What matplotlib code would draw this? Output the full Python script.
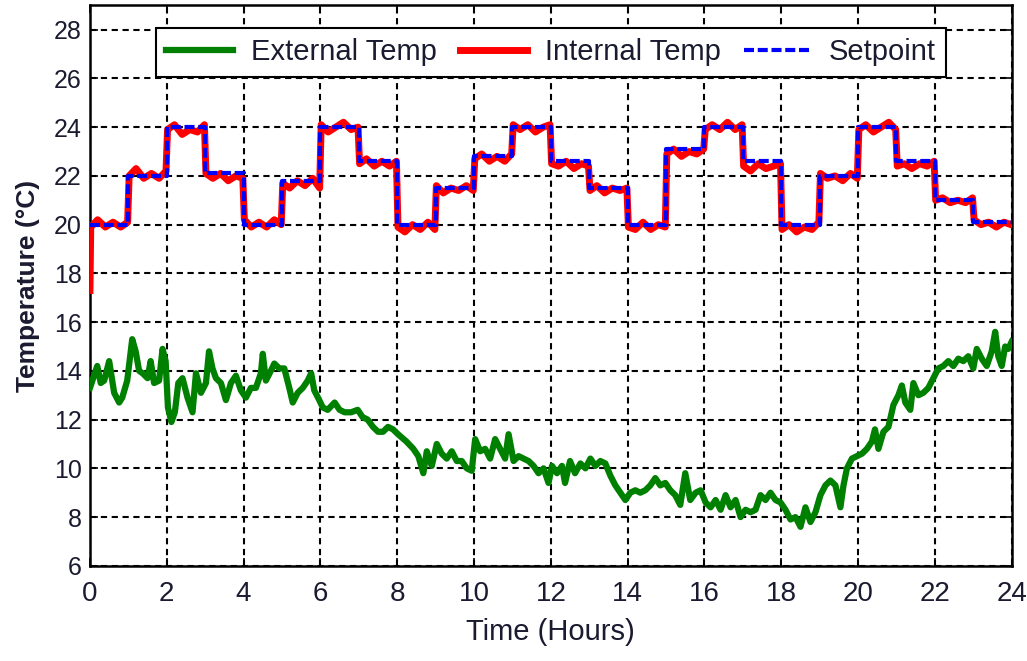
import numpy as np
import matplotlib
matplotlib.use('Agg')
from matplotlib import pyplot as plt

narrow = ['Liberation Sans Narrow', 'DejaVu Sans Condensed', 'Liberation Sans', 'DejaVu Sans']
plt.rcParams['font.family'] = ['Liberation Sans', 'DejaVu Sans']
txt_color = '#1a1a30'

# hourly setpoint (deg C), hour 0..23
setpoint = [20, 22, 24, 22.1, 20, 21.8, 24, 22.6, 20, 21.5, 22.8, 24,
            22.6, 21.5, 20, 23.1, 24, 22.6, 20, 22, 24, 22.6, 21, 20.1]

# internal temperature, six readings inside each hour
internal_start = 17.3
internal = [
    [19.9, 20.2, 19.9, 20.1, 19.9, 20.1],
    [22.0, 22.3, 21.9, 22.1, 21.9, 22.2],
    [23.9, 24.1, 23.7, 23.9, 23.8, 24.1],
    [22.1, 21.9, 22.1, 21.8, 22.0, 21.9],
    [20.2, 19.9, 20.1, 19.9, 20.2, 20.0],
    [21.7, 21.5, 21.8, 21.6, 21.9, 21.5],
    [24.1, 23.8, 24.0, 24.2, 23.9, 24.0],
    [22.5, 22.7, 22.4, 22.6, 22.4, 22.6],
    [19.9, 19.7, 20.0, 19.8, 20.1, 19.8],
    [21.6, 21.3, 21.5, 21.4, 21.6, 21.4],
    [22.7, 22.9, 22.6, 22.8, 22.6, 22.9],
    [24.1, 23.9, 24.1, 23.8, 24.0, 24.1],
    [22.5, 22.4, 22.6, 22.3, 22.5, 22.4],
    [21.4, 21.6, 21.3, 21.5, 21.4, 21.5],
    [19.9, 19.8, 20.1, 19.8, 20.0, 19.9],
    [22.9, 23.1, 22.8, 23.0, 22.9, 23.1],
    [23.9, 24.1, 23.9, 24.2, 23.9, 24.1],
    [22.4, 22.2, 22.5, 22.3, 22.4, 22.5],
    [19.8, 20.0, 19.7, 19.9, 19.8, 20.1],
    [22.1, 21.9, 22.0, 21.8, 22.1, 21.9],
    [23.9, 24.1, 23.8, 24.0, 24.2, 23.9],
    [22.4, 22.5, 22.3, 22.5, 22.4, 22.6],
    [21.0, 21.1, 20.9, 21.0, 20.9, 21.1],
    [20.2, 20.0, 20.1, 19.9, 20.1, 20.0],
]
int_offsets = [0.02, 0.2, 0.4, 0.6, 0.8, 0.98]

# external temperature readings
ext_hours = [0.0, 0.19, 0.28, 0.37, 0.50, 0.63, 0.76, 0.84, 0.97,
             1.10, 1.19, 1.28, 1.37, 1.50, 1.58, 1.67, 1.80, 1.89, 1.97,
             2.03, 2.12, 2.21, 2.30, 2.41, 2.54, 2.67, 2.76, 2.89,
             3.02, 3.10, 3.19, 3.28, 3.41, 3.54, 3.67, 3.80, 3.93,
             4.06, 4.19, 4.32, 4.45, 4.50, 4.58, 4.71, 4.80, 4.93,
             5.06, 5.19, 5.28, 5.41, 5.54, 5.67, 5.76, 5.84, 5.97,
             6.06, 6.19, 6.37, 6.50, 6.63, 6.80, 6.97,
             7.10, 7.23, 7.37, 7.50, 7.63, 7.76, 7.89, 8.02,
             8.24, 8.42, 8.55, 8.68, 8.77, 8.90,
             9.03, 9.16, 9.29, 9.42, 9.55, 9.68, 9.81, 9.94,
             10.03, 10.16, 10.29, 10.42, 10.55, 10.68, 10.81, 10.90,
             11.03, 11.16, 11.29, 11.42, 11.55, 11.68, 11.81, 11.94,
             12.03, 12.16, 12.29, 12.37, 12.50, 12.63, 12.77, 12.90,
             13.03, 13.16, 13.29, 13.42, 13.55, 13.68, 13.81, 13.94,
             14.07, 14.20, 14.33, 14.46, 14.59, 14.72, 14.85, 14.98,
             15.11, 15.24, 15.37, 15.50, 15.63, 15.77, 15.90,
             16.03, 16.16, 16.29, 16.42, 16.55, 16.68, 16.81, 16.94,
             17.07, 17.20, 17.33, 17.46, 17.59, 17.72, 17.85, 17.98,
             18.11, 18.24, 18.37, 18.50, 18.63, 18.76, 18.89,
             19.02, 19.15, 19.28, 19.41, 19.54, 19.62, 19.71, 19.84, 19.97,
             20.10, 20.23, 20.36, 20.44, 20.53, 20.66, 20.79, 20.92,
             21.05, 21.14, 21.23, 21.36, 21.44, 21.57, 21.70, 21.83, 21.96,
             22.09, 22.22, 22.35, 22.48, 22.61, 22.74, 22.87,
             23.00, 23.09, 23.22, 23.35, 23.48, 23.57, 23.65, 23.74, 23.83, 23.91, 24.0]
ext_temp = [13.3, 14.2, 13.5, 13.6, 14.4, 13.1, 12.7, 12.9, 13.6,
            15.3, 14.8, 14.0, 13.9, 13.7, 14.4, 13.5, 13.6, 14.9, 14.4,
            12.5, 11.9, 12.3, 13.5, 13.7, 12.9, 12.3, 13.9, 13.1,
            13.5, 14.8, 14.1, 13.7, 13.5, 12.8, 13.5, 13.8, 13.2,
            12.9, 13.3, 13.3, 13.9, 14.7, 13.6, 14.0, 14.3, 14.1,
            14.1, 13.3, 12.7, 13.1, 13.3, 13.6, 13.9, 13.2, 12.8,
            12.5, 12.4, 12.7, 12.4, 12.3, 12.3, 12.4,
            12.1, 12.0, 11.7, 11.5, 11.5, 11.7, 11.6, 11.4,
            11.1, 10.8, 10.5, 9.8, 10.7, 10.1,
            11.0, 10.6, 10.4, 10.7, 10.3, 10.3, 10.0, 9.9,
            11.2, 10.7, 10.8, 10.4, 11.2, 10.8, 10.4, 11.4,
            10.3, 10.5, 10.4, 10.3, 10.1, 9.8, 10.0, 9.4,
            10.1, 9.8, 10.1, 9.4, 10.3, 9.8, 10.2, 10.0,
            10.4, 10.1, 10.3, 10.2, 9.7, 9.3, 9.0, 8.7,
            9.0, 9.1, 9.0, 9.1, 9.3, 9.6, 9.3, 9.4,
            9.1, 8.9, 8.5, 9.8, 8.7, 9.0, 9.1,
            8.6, 8.4, 8.7, 8.3, 8.9, 8.4, 8.7, 8.0,
            8.3, 8.2, 8.3, 8.9, 8.7, 9.0, 8.7, 8.6,
            8.3, 7.9, 8.0, 7.6, 8.4, 7.8, 8.2,
            8.9, 9.3, 9.5, 9.3, 8.4, 9.3, 10.0, 10.4, 10.5,
            10.6, 10.8, 11.1, 11.6, 10.8, 11.5, 11.7, 12.6,
            13.0, 13.4, 12.7, 12.4, 13.5, 13.0, 13.1, 13.3, 13.7,
            14.1, 14.2, 14.4, 14.2, 14.5, 14.4, 14.6,
            14.1, 14.9, 14.5, 14.2, 14.8, 15.6, 14.6, 14.2, 15.0, 14.9, 15.2]

yticks = list(range(6, 29, 2))
xticks = list(range(0, 25, 2))

# build internal series
int_t = [0.0]
int_v = [internal_start]
for h, row in enumerate(internal):
    for off, v in zip(int_offsets, row):
        int_t.append(h + off)
        int_v.append(v)

sp_t = list(range(len(setpoint) + 1))
sp_v = setpoint + [setpoint[-1]]

fig = plt.figure(figsize=(10.27, 6.61), dpi=100)
ax = fig.add_axes([0.0876, 0.144, 0.8975, 0.848])

ax.plot(ext_hours, ext_temp, color='#008000', lw=4.5, label='External Temp', zorder=3)
ax.plot(int_t, int_v, color='#ff0000', lw=5, label='Internal Temp', zorder=4)
ax.plot(sp_t, sp_v, color='#0000ff', lw=3, ls=(0, (2.4, 0.9)), drawstyle='steps-post',
        label='Setpoint', zorder=5)

ax.set_xlim(0, 24)
ax.set_ylim(6, 29)
ax.set_xticks(xticks)
ax.set_yticks(yticks)
ax.grid(True, color='black', ls=(0, (3, 2.2)), lw=1.5)
ax.set_axisbelow(True)
ax.tick_params(direction='in', top=True, right=True, length=6, width=1.2,
               labelcolor=txt_color)
ax.tick_params(axis='x', pad=11)
ax.tick_params(axis='y', pad=6)
for lbl in ax.get_xticklabels():
    lbl.set_family(narrow)
    lbl.set_fontsize(20)
for lbl in ax.get_yticklabels():
    lbl.set_fontsize(18)
for s in ax.spines.values():
    s.set_linewidth(1.8)

ax.set_xlabel('Time (Hours)', family=narrow, fontsize=21, labelpad=8, color=txt_color)
ax.set_ylabel('Temperature (°C)', fontsize=19, fontweight='bold', labelpad=10,
              color=txt_color)

leg = ax.legend(loc='upper center', bbox_to_anchor=(0.5, 0.985), ncol=3,
                prop={'family': narrow, 'size': 21}, fancybox=False,
                framealpha=1, edgecolor='black', handlelength=2.3,
                columnspacing=0.8, handletextpad=0.6, borderpad=0.35)
leg.get_frame().set_linewidth(1.5)
for t in leg.get_texts():
    t.set_color(txt_color)

plt.savefig('out.png', dpi=100)
